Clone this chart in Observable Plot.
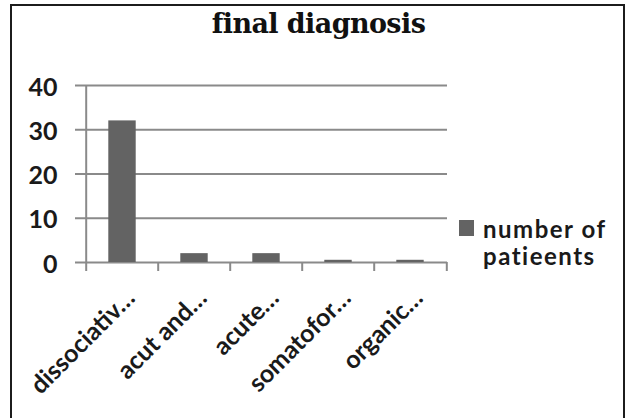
<!DOCTYPE html>
<html>
<head>
<meta charset="utf-8">
<script src="https://cdn.jsdelivr.net/npm/d3@7"></script>
<script src="https://cdn.jsdelivr.net/npm/@observablehq/plot@0.6"></script>
<style>
  body { margin: 0; background: #fff; }
  #chart { position: relative; width: 625px; height: 418px; overflow: hidden; font-family: Lato, sans-serif; }
  #frame { position: absolute; left: 10px; top: 4px; width: 611px; height: 420px; border: 2px solid #1c1c1c; }
  #title { position: absolute; left: 6px; width: 625px; top: 8px; text-align: center;
           font: bold 27px "DejaVu Serif", serif; color: #111; letter-spacing: -0.6px; }
  #plot { position: absolute; left: 0; top: 0; }
  #legend { position: absolute; left: 459px; top: 220px; font: bold 24px Lato, sans-serif; color: #1a1a1a; }
  #legend .sw { position: absolute; left: 0; top: 0; width: 15px; height: 16px; background: #636363; }
  #legend .lb { position: absolute; left: 24px; white-space: nowrap; line-height: 24px; letter-spacing: 1.5px; }
</style>
</head>
<body>
<div id="chart">
  <div id="frame"></div>
  <div id="plot"></div>
  <div id="title">final diagnosis</div>
  <div id="legend">
    <div class="sw"></div>
    <div class="lb" style="top:-3px">number of</div>
    <div class="lb" style="top:24px">patieents</div>
  </div>
</div>
<script>
// Diagnosis categories (labels as shown, truncated) and patient counts
const categories = ["dissociativ…", "acut and…", "acute…", "somatofor…", "organic…"];
const patients = [32, 2, 2, 0.5, 0.5];
const yTicks = [0, 10, 20, 30, 40];

const data = categories.map((c, i) => ({category: c, patients: patients[i]}));

const W = 625, H = 418;
const mL = 84, mR = 178, mT = 85, mB = 156;
const bw = (W - mL - mR) / categories.length;
const frameH = H - mT - mB;
const barInset = (bw - 28) / 2;

const chart = Plot.plot({
  width: W,
  height: H,
  marginLeft: mL,
  marginRight: mR,
  marginTop: mT,
  marginBottom: mB,
  style: {background: "transparent", overflow: "visible"},
  x: {type: "band", domain: categories, padding: 0, axis: null},
  y: {domain: [0, 40], axis: null},
  marks: [
    // horizontal gridlines, extending left as tick marks
    Plot.ruleY(yTicks, {y: d => d, stroke: "#8a8a8a", strokeWidth: 2, insetLeft: -9}),
    // vertical axis line with a tick below the baseline
    Plot.ruleX([categories[0]], {x: d => d, dx: -bw / 2, stroke: "#8a8a8a", strokeWidth: 2, insetBottom: -9}),
    // category boundary ticks under the baseline
    Plot.ruleX(categories.slice(1), {x: d => d, dx: -bw / 2, stroke: "#8a8a8a", strokeWidth: 2, insetTop: frameH, insetBottom: -9}),
    Plot.ruleX([categories[categories.length - 1]], {x: d => d, dx: bw / 2, stroke: "#8a8a8a", strokeWidth: 2, insetTop: frameH, insetBottom: -9}),
    // bars
    Plot.barY(data, {x: "category", y: "patients", fill: "#636363", insetLeft: barInset, insetRight: barInset}),
    // y tick labels
    Plot.text(yTicks, {y: d => d, frameAnchor: "left", text: d => String(d), textAnchor: "end", dx: -27, dy: 2,
      fontSize: 25, fontWeight: 700, fill: "#1a1a1a", fontFamily: "Lato, sans-serif"}),
    // rotated category labels
    Plot.text(categories, {x: d => d, frameAnchor: "bottom", text: d => d, rotate: -45, textAnchor: "end",
      lineAnchor: "bottom", dx: 14, dy: 37, fontSize: 25, fontWeight: 700, fill: "#1a1a1a", fontFamily: "Lato, sans-serif"})
  ]
});
document.getElementById("plot").appendChild(chart);
</script>
</body>
</html>
